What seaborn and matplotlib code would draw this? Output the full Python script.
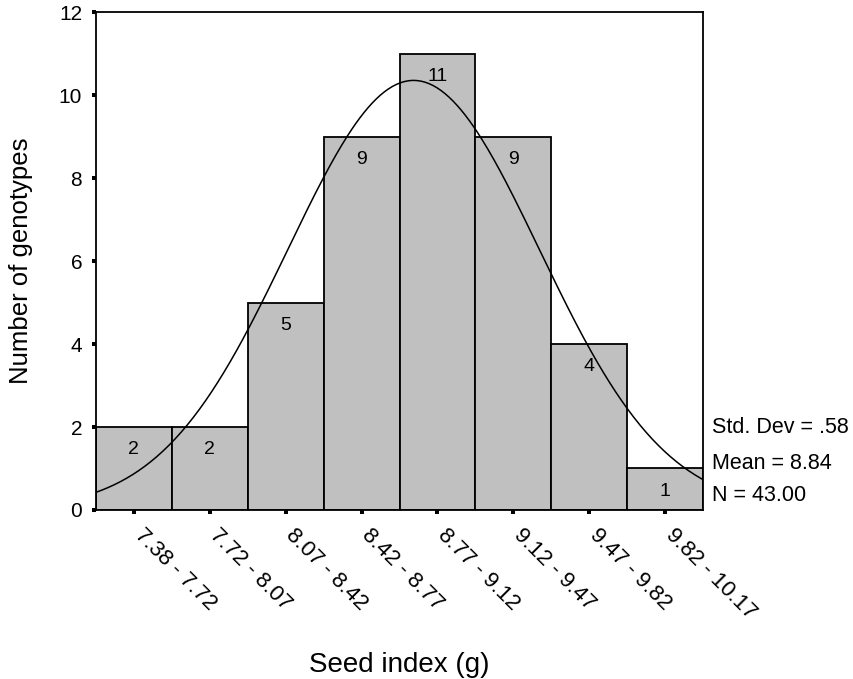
import matplotlib

matplotlib.use("Agg")

import matplotlib.transforms as mtransforms
import numpy as np
import seaborn as sns
from matplotlib import pyplot as plt

# Histogram data
bin_edges = [7.375, 7.725, 8.075, 8.425, 8.775, 9.125, 9.475, 9.825, 10.175]
counts = [2, 2, 5, 9, 11, 9, 4, 1]
bin_labels = [
    "7.38 - 7.72",
    "7.72 - 8.07",
    "8.07 - 8.42",
    "8.42 - 8.77",
    "8.77 - 9.12",
    "9.12 - 9.47",
    "9.47 - 9.82",
    "9.82 - 10.17",
]
y_ticks = [0, 2, 4, 6, 8, 10, 12]

# Summary statistics printed on the chart
std_dev = 0.58
mean = 8.84
n_obs = 43

sns.set_style("ticks")
plt.rcParams["font.family"] = ["Liberation Sans", "DejaVu Sans"]
plt.rcParams["text.color"] = "black"
plt.rcParams["axes.labelcolor"] = "black"
plt.rcParams["xtick.color"] = "black"
plt.rcParams["ytick.color"] = "black"

centers = [(a + b) / 2 for a, b in zip(bin_edges[:-1], bin_edges[1:])]
bin_width = bin_edges[1] - bin_edges[0]

fig = plt.figure(figsize=(8.54, 6.79), dpi=100)
ax = fig.add_axes([0.1124, 0.2489, 0.7108, 0.7334])

sns.histplot(
    x=centers,
    weights=counts,
    bins=bin_edges,
    color="#c0c0c0",
    edgecolor="black",
    linewidth=1.3,
    alpha=1,
    ax=ax,
)

# Normal curve from the stated mean / std dev / N
xs = np.linspace(bin_edges[0], bin_edges[-1], 300)
ys = n_obs * bin_width / (std_dev * np.sqrt(2 * np.pi)) * np.exp(
    -0.5 * ((xs - mean) / std_dev) ** 2
)
sns.lineplot(x=xs, y=ys, color="black", linewidth=1.1, ax=ax)

# Count labels inside the bars
for c, n in zip(centers, counts):
    ax.annotate(
        str(n),
        xy=(c, n),
        xytext=(0, -16.5),
        textcoords="offset points",
        ha="center",
        va="center",
        fontsize=14,
        color="black",
    )

ax.set_xlim(bin_edges[0], bin_edges[-1])
ax.set_ylim(0, 12)
ax.set_yticks(y_ticks)
ax.set_xticks(centers, bin_labels)

for side in ["top", "right", "left", "bottom"]:
    ax.spines[side].set_visible(True)
    ax.spines[side].set_linewidth(1.3)
    ax.spines[side].set_color("black")

ax.tick_params(axis="y", direction="out", length=2.9, width=2.9, pad=7,
               labelsize=15, color="black", labelcolor="black")
ax.tick_params(axis="x", direction="out", length=2.9, width=2.9, pad=8,
               labelsize=16, color="black", labelcolor="black")

shift = mtransforms.ScaledTranslation(11 / 100, 0, fig.dpi_scale_trans)
for lab in ax.get_xticklabels():
    lab.set_rotation(-45)
    lab.set_ha("left")
    lab.set_va("top")
    lab.set_rotation_mode("anchor")
    lab.set_transform(lab.get_transform() + shift)

ax.set_xlabel("Seed index (g)", fontsize=20)
ax.set_ylabel("Number of genotypes", fontsize=18.5)
ax.xaxis.set_label_coords(0.5, -0.285)
ax.yaxis.set_label_coords(-0.104, 0.5)

stats_lines = [
    (0.165, f"Std. Dev = .{int(round(std_dev * 100))}"),
    (0.094, f"Mean = {mean:.2f}"),
    (0.030, f"N = {n_obs:.2f}"),
]
for ypos, txt in stats_lines:
    ax.text(1.0148, ypos, txt, transform=ax.transAxes, ha="left",
            va="center", fontsize=15.5, color="black")

fig.savefig("out.png", dpi=100)
